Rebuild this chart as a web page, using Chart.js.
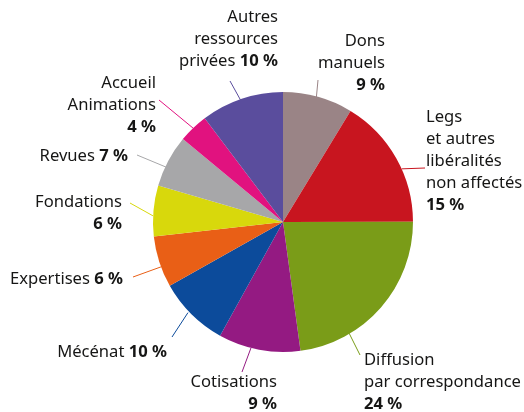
<!DOCTYPE html>
<html>
<head>
	<script src="https://cdn.jsdelivr.net/npm/chart.js@4"></script>
	<title>Ressources</title>
	<style>
		body { margin: 0; background: #fff; }
	</style>
</head>
<body>
	<canvas id="myChart" width="524" height="412"></canvas>
	<script type="text/javascript">
		// data (slices start at 12 o'clock, clockwise)
		const categories = ['Dons manuels', 'Legs et autres libéralités non affectés', 'Diffusion par correspondance',
			'Cotisations', 'Mécénat', 'Expertises', 'Fondations', 'Revues', 'Accueil Animations', 'Autres ressources privées'];
		const values = [8.7, 16.3, 22.9, 10.2, 8.8, 6.4, 6.3, 6.5, 3.7, 10.3];
		const pctLabels = ['9 %', '15 %', '24 %', '9 %', '10 %', '6 %', '6 %', '7 %', '4 %', '10 %'];
		const colors = ['#9a8486', '#c8151f', '#7a9c18', '#941a82', '#0c4b9b', '#e95f16', '#d8d80c', '#a7a7a9', '#e1127f', '#5a4d9d'];

		// where each label sits: text lines, anchor, leader line end
		const labelLayout = [
			{ lines: ['Dons', 'manuels'], pctNewLine: true, x: 385, y: 41, align: 'right', end: [318, 80], t: 0.5, rf: 0.93 },
			{ lines: ['Legs', 'et autres', 'libéralités', 'non affectés'], pctNewLine: true, x: 426, y: 117, align: 'left', end: [425, 168], t: 0.59, rf: 1 },
			{ lines: ['Diffusion', 'par correspondance'], pctNewLine: true, x: 364, y: 360, align: 'left', end: [360, 355], t: 0.72, rf: 0.98 },
			{ lines: ['Cotisations'], pctNewLine: true, x: 277, y: 382, align: 'right', end: [242, 372], t: 0.6, rf: 1 },
			{ lines: ['Mécénat'], pctNewLine: false, x: 167, y: 352, align: 'right', end: [172, 337], t: 0.55, rf: 1.01 },
			{ lines: ['Expertises'], pctNewLine: false, x: 123, y: 279, align: 'right', end: [133, 277], t: 0.4, rf: 0.99 },
			{ lines: ['Fondations'], pctNewLine: true, x: 122, y: 202, align: 'right', end: [130, 203], t: 0.4, rf: 1 },
			{ lines: ['Revues'], pctNewLine: false, x: 128, y: 156, align: 'right', end: [137, 155], t: 0.38, rf: 0.99 },
			{ lines: ['Accueil', 'Animations'], pctNewLine: true, x: 156, y: 83, align: 'right', end: [159, 100], t: 0.5, rf: 0.99 },
			{ lines: ['Autres', 'ressources', 'privées'], pctNewLine: false, x: 278, y: 17, align: 'right', end: [230, 81], t: 0.5, rf: 0.93 }
		];

		const FONT = '"Noto Sans", sans-serif';
		const SIZE = 16.6;
		const LINE_H = 22;

		const pieLabels = {
			id: 'pieLabels',
			afterDatasetsDraw(chart) {
				const ctx = chart.ctx;
				const meta = chart.getDatasetMeta(0);
				ctx.save();
				meta.data.forEach((arc, i) => {
					const lay = labelLayout[i];
					const a = arc.startAngle + (arc.endAngle - arc.startAngle) * lay.t;
					const r = arc.outerRadius * lay.rf;
					ctx.strokeStyle = colors[i];
					ctx.lineWidth = 1;
					ctx.beginPath();
					ctx.moveTo(arc.x + Math.cos(a) * r, arc.y + Math.sin(a) * r);
					ctx.lineTo(lay.end[0], lay.end[1]);
					ctx.stroke();

					// build rows of [text, bold]
					const rows = lay.lines.map(l => [[l, false]]);
					if (lay.pctNewLine) rows.push([[pctLabels[i], true]]);
					else rows[rows.length - 1].push([' ' + pctLabels[i], true]);

					ctx.fillStyle = '#161615';
					ctx.textBaseline = 'middle';
					ctx.textAlign = 'left';
					rows.forEach((row, k) => {
						let w = 0;
						row.forEach(seg => {
							ctx.font = (seg[1] ? 'bold ' : '') + SIZE + 'px ' + FONT;
							w += ctx.measureText(seg[0]).width;
						});
						let x = lay.align === 'right' ? lay.x - w : lay.x;
						const y = lay.y + k * LINE_H;
						row.forEach(seg => {
							ctx.font = (seg[1] ? 'bold ' : '') + SIZE + 'px ' + FONT;
							ctx.fillText(seg[0], x, y);
							x += ctx.measureText(seg[0]).width;
						});
					});
				});
				ctx.restore();
			}
		};

		const ctx = document.getElementById('myChart');
		const myChart = new Chart(ctx, {
			type: 'pie',
			data: {
				labels: categories,
				datasets: [{
					data: values,
					backgroundColor: colors,
					borderWidth: 0
				}]
			},
			options: {
				responsive: false,
				animation: false,
				layout: { padding: { left: 153, right: 111, top: 92, bottom: 60 } },
				plugins: {
					legend: { display: false },
					tooltip: { enabled: false }
				}
			},
			plugins: [pieLabels]
		});
	</script>
</body>
</html>
